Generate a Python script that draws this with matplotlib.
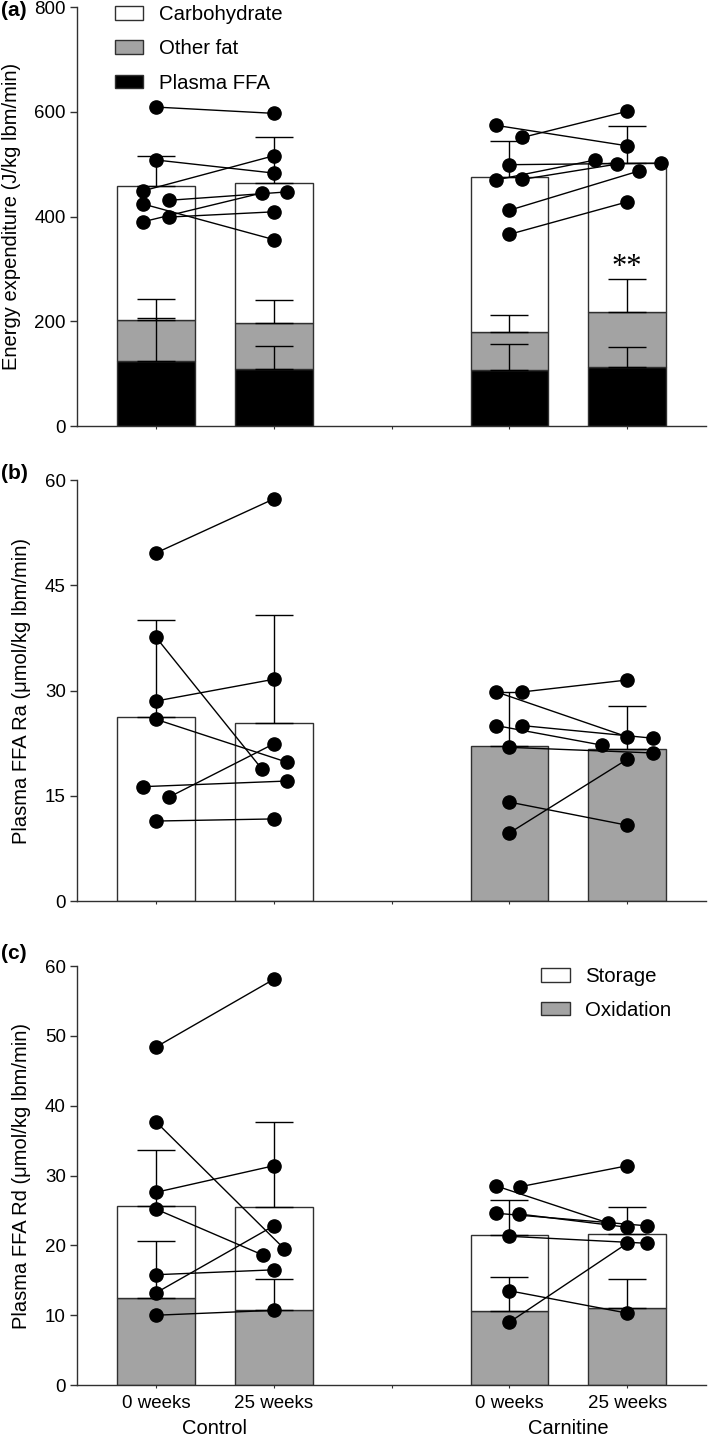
import numpy as np
import matplotlib
matplotlib.use("Agg")
import matplotlib.pyplot as plt
from matplotlib.patches import Patch

plt.rcParams["font.family"] = ["Liberation Sans", "DejaVu Sans"]
plt.rcParams["font.size"] = 14

GRAY = "#a3a3a3"
EDGE = "#303030"

# bar positions: Control 0, Control 25, (gap), Carnitine 0, Carnitine 25
bar_x = [0, 1, 3, 4]
week_labels = ["0 weeks", "25 weeks", "0 weeks", "25 weeks"]
group_labels = ["Control", "Carnitine"]

# ---- panel (a) energy expenditure, J/kg lbm/min
a_ffa = [124, 109, 107, 113]
a_other_fat = [78, 88, 72, 105]
a_carb = [256, 267, 297, 284]
a_ffa_sd = [83, 44, 49, 38]
a_other_fat_sd = [40, 44, 33, 62]
a_total_sd = [58, 87, 68, 71]

a_ctrl_pre = [609, 508, 449, 424, 431, 390, 399]
a_ctrl_post = [597, 483, 516, 356, 447, 445, 409]
a_ctrl_pre_dx = [0, 0, -0.11, -0.11, 0.11, -0.11, 0.11]
a_ctrl_post_dx = [0, 0, 0, 0, 0.11, -0.1, 0]
a_carn_pre = [574, 551, 499, 470, 471, 412, 366]
a_carn_post = [535, 601, 502, 508, 500, 487, 428]
a_carn_pre_dx = [-0.11, 0.11, 0, -0.11, 0.11, 0, 0]
a_carn_post_dx = [0, 0, 0.29, -0.27, -0.09, 0.1, 0]

# ---- panel (b) plasma FFA Ra
b_ra = [26.2, 25.4, 22.1, 21.7]
b_ra_sd = [13.8, 15.3, 7.7, 6.1]

b_ctrl_pre = [49.6, 37.6, 28.5, 25.9, 16.3, 14.8, 11.4]
b_ctrl_post = [57.3, 18.8, 31.6, 19.8, 17.1, 22.4, 11.7]
b_ctrl_pre_dx = [0, 0, 0, 0, -0.11, 0.11, 0]
b_ctrl_post_dx = [0, -0.1, 0, 0.11, 0.11, 0, 0]
b_carn_pre = [29.8, 29.8, 25.0, 25.0, 21.9, 14.1, 9.7]
b_carn_post = [23.4, 31.5, 22.2, 23.2, 21.1, 10.8, 20.2]
b_carn_pre_dx = [-0.11, 0.11, -0.11, 0.11, 0, 0, 0]
b_carn_post_dx = [0, 0, -0.21, 0.22, 0.22, 0, 0]

# ---- panel (c) plasma FFA Rd
c_oxidation = [12.4, 10.7, 10.6, 11.0]
c_storage = [13.2, 14.8, 10.9, 10.6]
c_oxidation_sd = [8.2, 4.5, 4.9, 4.2]
c_total_sd = [8.1, 12.2, 5.0, 3.9]

c_ctrl_pre = [48.4, 37.7, 27.6, 25.2, 15.8, 13.2, 10.0]
c_ctrl_post = [58.1, 19.5, 31.4, 18.6, 16.5, 22.8, 10.7]
c_ctrl_pre_dx = [0, 0, 0, 0, 0, 0, 0]
c_ctrl_post_dx = [0, 0.09, 0, -0.09, 0, 0, 0]
c_carn_pre = [28.5, 28.4, 24.6, 24.5, 21.3, 13.5, 9.0]
c_carn_post = [23.2, 31.4, 22.8, 22.6, 20.3, 10.3, 20.3]
c_carn_pre_dx = [-0.11, 0.09, -0.11, 0.08, 0, 0, 0]
c_carn_post_dx = [-0.16, 0, 0.17, 0, 0.17, 0, 0]


def style_axis(ax, ymax, yticks):
    ax.set_xlim(-0.67, 4.67)
    ax.set_ylim(0, ymax)
    ax.set_yticks(yticks)
    ax.set_xticks([0, 1, 2, 3, 4])
    ax.set_xticklabels([])
    for s in ["top", "right"]:
        ax.spines[s].set_visible(False)
    for s in ["left", "bottom"]:
        ax.spines[s].set_color(EDGE)
        ax.spines[s].set_linewidth(1.0)
    ax.tick_params(axis="y", direction="out", length=5, width=1, color=EDGE, pad=3,
                   labelsize=13.5)
    ax.tick_params(axis="x", direction="out", length=2.5, width=0.8, color=EDGE,
                   labelsize=13.5)


def up_error(ax, x, top, sd):
    ax.errorbar(x, top, yerr=[np.zeros(len(sd)), sd], fmt="none",
                ecolor="black", elinewidth=1, capsize=14, capthick=1, zorder=3)


def paired(ax, x0, pre, pre_dx, x1, post, post_dx):
    for p, pdx, q, qdx in zip(pre, pre_dx, post, post_dx):
        ax.plot([x0 + pdx, x1 + qdx], [p, q], color="black", lw=1, zorder=4)
    ax.plot(np.array(pre_dx) + x0, pre, "o", color="black", ms=9.5, zorder=5)
    ax.plot(np.array(post_dx) + x1, post, "o", color="black", ms=9.5, zorder=5)


fig = plt.figure(figsize=(7.09, 14.35), dpi=100)
left, width = 0.1086, 0.8874
ax_a = fig.add_axes([left, 0.7031, width, 0.2920])
ax_b = fig.add_axes([left, 0.3721, width, 0.2934])
ax_c = fig.add_axes([left, 0.0348, width, 0.2920])

bw = 0.66

# (a)
ffa = np.array(a_ffa)
other = np.array(a_other_fat)
carb = np.array(a_carb)
ax_a.bar(bar_x, ffa, bw, color="black", edgecolor=EDGE, lw=1, zorder=2)
ax_a.bar(bar_x, other, bw, bottom=ffa, color=GRAY, edgecolor=EDGE, lw=1, zorder=2)
ax_a.bar(bar_x, carb, bw, bottom=ffa + other, color="white", edgecolor=EDGE, lw=1, zorder=2)
up_error(ax_a, bar_x, ffa, a_ffa_sd)
up_error(ax_a, bar_x, ffa + other, a_other_fat_sd)
up_error(ax_a, bar_x, ffa + other + carb, a_total_sd)
paired(ax_a, 0, a_ctrl_pre, a_ctrl_pre_dx, 1, a_ctrl_post, a_ctrl_post_dx)
paired(ax_a, 3, a_carn_pre, a_carn_pre_dx, 4, a_carn_post, a_carn_post_dx)
ax_a.text(4, ffa[3] + other[3] + a_other_fat_sd[3] - 5, "**", ha="center", va="bottom",
          fontsize=22, family="Liberation Serif")
style_axis(ax_a, 800, [0, 200, 400, 600, 800])
ax_a.set_ylabel("Energy expenditure (J/kg lbm/min)", fontsize=14.5)
ax_a.yaxis.set_label_coords(-0.089, 0.5)
h = [Patch(facecolor="white", edgecolor=EDGE, lw=1),
     Patch(facecolor=GRAY, edgecolor=EDGE, lw=1),
     Patch(facecolor="black", edgecolor=EDGE, lw=1)]
ax_a.legend(h, ["Carbohydrate", "Other fat", "Plasma FFA"], loc="upper left",
            bbox_to_anchor=(0.06, 1.005), frameon=False, borderpad=0, borderaxespad=0,
            handlelength=1.4, handleheight=0.65, handletextpad=0.75, labelspacing=0.75,
            fontsize=14.7)

# (b)
ax_b.bar(bar_x, b_ra, bw, color=["white", "white", GRAY, GRAY], edgecolor=EDGE, lw=1, zorder=2)
up_error(ax_b, bar_x, b_ra, b_ra_sd)
paired(ax_b, 0, b_ctrl_pre, b_ctrl_pre_dx, 1, b_ctrl_post, b_ctrl_post_dx)
paired(ax_b, 3, b_carn_pre, b_carn_pre_dx, 4, b_carn_post, b_carn_post_dx)
style_axis(ax_b, 60, [0, 15, 30, 45, 60])
ax_b.set_ylabel("Plasma FFA Ra (\u03bcmol/kg lbm/min)", fontsize=14.5)
ax_b.yaxis.set_label_coords(-0.073, 0.5)

# (c)
ox = np.array(c_oxidation)
st = np.array(c_storage)
ax_c.bar(bar_x, ox, bw, color=GRAY, edgecolor=EDGE, lw=1, zorder=2)
ax_c.bar(bar_x, st, bw, bottom=ox, color="white", edgecolor=EDGE, lw=1, zorder=2)
up_error(ax_c, bar_x, ox, c_oxidation_sd)
up_error(ax_c, bar_x, ox + st, c_total_sd)
paired(ax_c, 0, c_ctrl_pre, c_ctrl_pre_dx, 1, c_ctrl_post, c_ctrl_post_dx)
paired(ax_c, 3, c_carn_pre, c_carn_pre_dx, 4, c_carn_post, c_carn_post_dx)
style_axis(ax_c, 60, [0, 10, 20, 30, 40, 50, 60])
ax_c.set_ylabel("Plasma FFA Rd (\u03bcmol/kg lbm/min)", fontsize=14.5)
ax_c.yaxis.set_label_coords(-0.073, 0.5)
ax_c.set_xticks(bar_x + [2])
ax_c.set_xticklabels(week_labels + [""])
ax_c.tick_params(axis="x", pad=5)
for gx, g in zip([0.5, 3.5], group_labels):
    ax_c.text(gx, -0.103, g, transform=ax_c.get_xaxis_transform(), ha="center", va="center",
              fontsize=14.5)
h2 = [Patch(facecolor="white", edgecolor=EDGE, lw=1),
      Patch(facecolor=GRAY, edgecolor=EDGE, lw=1)]
ax_c.legend(h2, ["Storage", "Oxidation"], loc="upper left",
            bbox_to_anchor=(0.738, 0.997), frameon=False, borderpad=0, borderaxespad=0,
            handlelength=1.4, handleheight=0.65, handletextpad=0.75, labelspacing=0.7,
            fontsize=14.7)

fig.text(0.002, 0.999, "(a)", fontweight="bold", fontsize=15, va="top", ha="left")
fig.text(0.002, 0.677, "(b)", fontweight="bold", fontsize=15, va="top", ha="left")
fig.text(0.002, 0.342, "(c)", fontweight="bold", fontsize=15, va="top", ha="left")

fig.savefig("out.png", dpi=100)
